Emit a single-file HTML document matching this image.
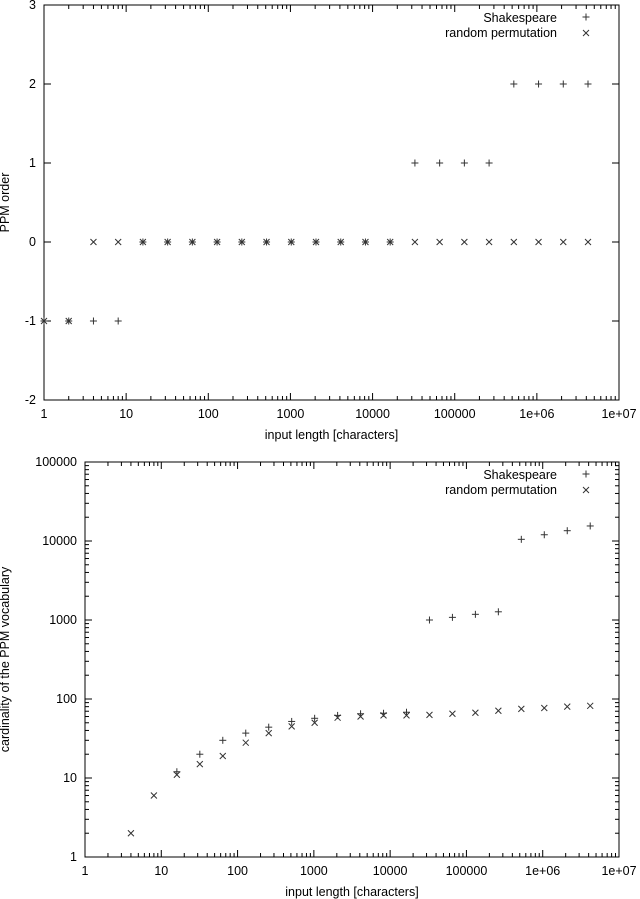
<!DOCTYPE html>
<html><head><meta charset="utf-8"><style>
html,body{margin:0;padding:0;background:#fff;}
svg{display:block;font-family:"Liberation Sans",sans-serif;font-size:12.5px;}
</style></head><body>
<svg id="c" width="640" height="899"></svg>
<script>
const inputLengths=[1,2,4,8,16,32,64,128,256,512,1024,2048,4096,8192,16384,32768,65536,131072,262144,524288,1048576,2097152,4194304];
const orderShakespeare=[-1,-1,-1,-1,0,0,0,0,0,0,0,0,0,0,0,1,1,1,1,2,2,2,2];
const orderRandom=[-1,-1,0,0,0,0,0,0,0,0,0,0,0,0,0,0,0,0,0,0,0,0,0];
const vocabShakespeare=[null,null,null,null,12,20,30,37,44,52,57,62,65,66,68,1000,1080,1180,1270,10500,12000,13500,15500];
const vocabRandom=[null,null,2,6,11,15,19,28,37,45,50,58,60,62,62,63,65,67,71,75,77,80,82];
const xTickLabels=["1","10","100","1000","10000","100000","1e+06","1e+07"];
const orderTicks=[-2,-1,0,1,2,3];
const vocabTickLabels=["1","10","100","1000","10000","100000"];

const svg=document.getElementById('c');
const NS="http://www.w3.org/2000/svg";
function mk(t,a,p){const e=document.createElementNS(NS,t);for(const k in a)e.setAttribute(k,a[k]);(p||svg).appendChild(e);return e;}
function line(x1,y1,x2,y2,g,c){return mk('line',{x1,y1,x2,y2,stroke:c||'#000','stroke-width':1},g);}
function txt(x,y,s,anchor,g){const e=mk('text',{x,y,'text-anchor':anchor||'middle'},g);e.textContent=s;return e;}
function plus(x,y,g){const e=mk('g',{},g);line(x-3.5,y,x+3.5,y,e,'#333');line(x,y-3.5,x,y+3.5,e,'#333');}
function cross(x,y,g){const e=mk('g',{},g);line(x-3,y-3,x+3,y+3,e,'#333');line(x-3,y+3,x+3,y-3,e,'#333');}

function chart(o){
  const g=mk('g',{});
  
  
  const L=o.L,R=o.R,T=o.T,B=o.B;
  const xs=v=>L+(R-L)*Math.log10(v)/7;
  const ys=o.ys;
  const fr=mk('rect',{x:L,y:T,width:R-L,height:B-T,fill:'none',stroke:'#000','stroke-width':1},g);
  
  for(let d=0;d<=7;d++){
    const x=L+(R-L)*d/7;
    line(x,B,x,B-7,g);line(x,T,x,T+7,g);
    const t=txt(x,B+18,xTickLabels[d],'middle',g);
    
    if(d<7)for(let m=2;m<10;m++){const xm=L+(R-L)*(d+Math.log10(m))/7;line(xm,B,xm,B-4,g);line(xm,T,xm,T+4,g);}
  }
  o.yticks(g);
  const xl=txt((L+R)/2,B+39,'input length [characters]','middle',g);
  
  const yl=txt(0,0,o.ytitle,'middle',g);
  yl.setAttribute('transform','translate('+o.ytx+','+(T+B)/2+') rotate(-90)');
  
  for(let i=0;i<inputLengths.length;i++){
    if(o.s[i]!=null)plus(xs(inputLengths[i]),ys(o.s[i]),g);
    if(o.r[i]!=null)cross(xs(inputLengths[i]),ys(o.r[i]),g);
  }
  const lg=mk('g',{},g);
  const l1=txt(R-62,T+17,'Shakespeare','end',lg);
  plus(R-33,T+12,lg);
  const l2=txt(R-62,T+32,'random permutation','end',lg);
  cross(R-33,T+28,lg);
}

(function(){
  const T=5,B=400,L=44,R=619;
  const ys=v=>B-(v+2)*(B-T)/5;
  chart({name:'ppm-order-chart',L,R,T,B,ys,s:orderShakespeare,r:orderRandom,ytitle:'PPM order',ytx:9,
    yticks:(g)=>{orderTicks.forEach(v=>{const y=ys(v);line(L,y,L+7,y,g);line(R,y,R-7,y,g);const t=txt(L-8,y+4,String(v),'end',g);});}});
})();
(function(){
  const T=462,B=857,L=85,R=619;
  const ys=v=>B-(B-T)*Math.log10(v)/5;
  chart({name:'ppm-vocabulary-chart',L,R,T,B,ys,s:vocabShakespeare,r:vocabRandom,ytitle:'cardinality of the PPM vocabulary',ytx:9,
    yticks:(g)=>{for(let d=0;d<=5;d++){const y=B-(B-T)*d/5;line(L,y,L+7,y,g);line(R,y,R-7,y,g);const t=txt(L-8,y+4,vocabTickLabels[d],'end',g);
      if(d<5)for(let m=2;m<10;m++){const ym=B-(B-T)*(d+Math.log10(m))/5;line(L,ym,L+4,ym,g);line(R,ym,R-4,ym,g);}}}});
})();
</script>
</body></html>
